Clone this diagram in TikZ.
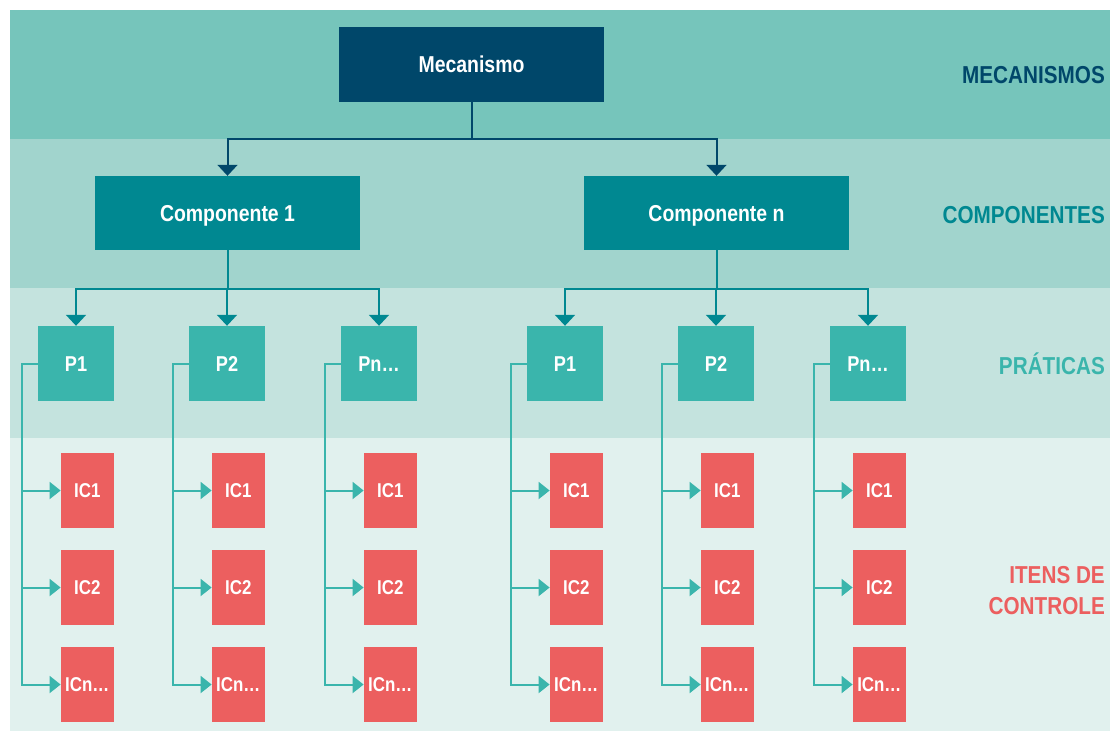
\documentclass[tikz,border=0pt]{standalone}
\usepackage{fontspec}
\setmainfont{Liberation Sans}[FakeStretch=0.845]
\usetikzlibrary{arrows.meta}

\definecolor{mecblue}{HTML}{00476A}
\definecolor{compteal}{HTML}{008891}
\definecolor{practeal}{HTML}{3AB5AC}
\definecolor{icred}{HTML}{EC5F5F}
\definecolor{bandA}{HTML}{76C5BB}
\definecolor{bandB}{HTML}{A1D4CD}
\definecolor{bandC}{HTML}{C4E3DE}
\definecolor{bandD}{HTML}{E1F1EE}

\tikzset{
  box/.style={rectangle, inner sep=0pt, text=white, text height=16.5pt, text depth=0pt,
    font=\bfseries\fontsize{23}{26}\selectfont},
  mecbox/.style={box, fill=mecblue, minimum width=265pt, minimum height=75pt},
  compbox/.style={box, fill=compteal, minimum width=265pt, minimum height=74pt},
  pracbox/.style={box, fill=practeal, minimum width=76pt, minimum height=75pt,
    text height=15.4pt, font=\bfseries\fontsize{21.5}{24}\selectfont},
  icbox/.style={box, fill=icred, minimum width=53pt, minimum height=75pt,
    text height=14.3pt, font=\bfseries\fontsize{20}{22}\selectfont},
  tip/.style={-{Triangle[width=20pt,length=11pt]}},
  mecline/.style={tip, draw=mecblue, line width=2pt},
  compline/.style={tip, draw=compteal, line width=2pt},
  pracline/.style={-{Triangle[width=17pt,length=11pt]}, draw=practeal, line width=2pt},
  layer/.style={anchor=east, align=right, inner sep=0pt, font=\bfseries\fontsize{24.5}{31}\selectfont},
}

\begin{document}
\begin{tikzpicture}[x=1pt, y=-1pt]
  \useasboundingbox (0,0) rectangle (1110,731);

  % layer bands
  \fill[bandA] (10,10)  rectangle (1110,139);
  \fill[bandB] (10,139) rectangle (1110,288);
  \fill[bandC] (10,288) rectangle (1110,438);
  \fill[bandD] (10,438) rectangle (1110,731);

  % layer titles
  \node[layer, text=mecblue]  (tmec)  at (1105,75)  {MECANISMOS};
  \node[layer, text=compteal] (tcomp) at (1105,215) {COMPONENTES};
  \node[layer, text=practeal] (tprac) at (1105,364) {PRÁTICAS};
  \node[layer, text=icred]    (tic)   at (1105,591) {ITENS DE\\CONTROLE};

  % mechanism and components
  \node[mecbox]  (mec) at (471.5,64.5) {Mecanismo};
  \node[compbox] (c1)  at (227.5,213)  {Componente 1};
  \node[compbox] (cn)  at (716.5,213)  {Componente n};

  \coordinate (busM) at (0,139);
  \draw[mecline] (mec.south) -- (mec.south |- busM) -| (c1.north);
  \draw[mecline] (mec.south |- busM) -| (cn.north);

  % practices, each with its control items
  \coordinate (busC) at (0,289);
  \foreach \c/\cx in {1/227.5, n/716.5} {
    \foreach \k/\dx/\lab in {1/-151.5/P1, 2/-0.5/P2, 3/151.5/Pn…} {
      \pgfmathsetmacro{\px}{\cx+\dx}
      \node[pracbox] (p\c\k) at (\px,363.5) {\lab};
      \draw[compline] (c\c.south) -- (c\c.south |- busC) -| (p\c\k.north);
      \foreach \j/\iy/\ilab in {1/490.5/IC1, 2/587.5/IC2, 3/684.5/ICn…} {
        \node[icbox, anchor=east] (ic\c\k\j) at (\px+38,\iy) {\ilab};
        \draw[pracline] (p\c\k.west) -- ++(-16,0) |- (ic\c\k\j.west);
      }
    }
  }
\end{tikzpicture}
\end{document}
